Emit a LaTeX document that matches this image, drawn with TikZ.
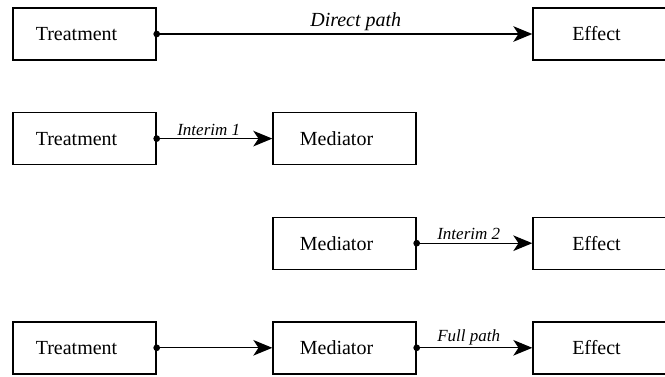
\documentclass[tikz,border=0pt]{standalone}
\usepackage{fontspec}
\setmainfont{Liberation Serif}
\usetikzlibrary{arrows.meta,positioning}

\begin{document}
\begin{tikzpicture}[
  x=0.5pt, y=-0.5pt,
  block/.style={
    draw=black,
    fill=white,
    line width=0.7pt,
    minimum width=71.5pt,
    minimum height=26pt,
    inner sep=2pt,
    execute at begin node={\hspace*{-8pt}},
    font=\fontsize{10}{12}\selectfont
  },
  link/.style={
    {Circle[length=3.3pt]}-{Stealth[length=9.5pt, width=7.8pt, inset=2.6pt]},
    shorten <=-1.65pt,
    line width=0.65pt
  },
  pathlabel/.style={above, inner sep=1.2pt, font=\fontsize{8.5}{10}\itshape},
  mainlabel/.style={above, inner sep=1.2pt, font=\fontsize{10}{12}\itshape}
]
\useasboundingbox (0,0) rectangle (665,376);
\clip (0,0) rectangle (665,376);

\node[block] (treat1) at (84.5,34) {Treatment};
\node[block, right=187.8pt of treat1] (effect1) {Effect};
\draw[link] (treat1.east) -- node[mainlabel, pos=0.53] {Direct path} (effect1.west);

\node[block, below=25.6pt of treat1] (treat2) {Treatment};
\node[block, right=57.8pt of treat2] (med2) {Mediator};
\draw[link] (treat2.east) -- node[pathlabel, pos=0.45] {Interim 1} (med2.west);

\node[block, below=25.6pt of med2] (med3) {Mediator};
\node[block, right=57.8pt of med3] (effect3) {Effect};
\draw[link] (med3.east) -- node[pathlabel, pos=0.45] {Interim 2} (effect3.west);

\node[block, below=25.6pt of med3] (med4) {Mediator};
\node[block, left=57.8pt of med4] (treat4) {Treatment};
\node[block, right=57.8pt of med4] (effect4) {Effect};
\draw[link] (treat4.east) -- (med4.west);
\draw[link] (med4.east) -- node[pathlabel, pos=0.45] {Full path} (effect4.west);

\end{tikzpicture}
\end{document}
